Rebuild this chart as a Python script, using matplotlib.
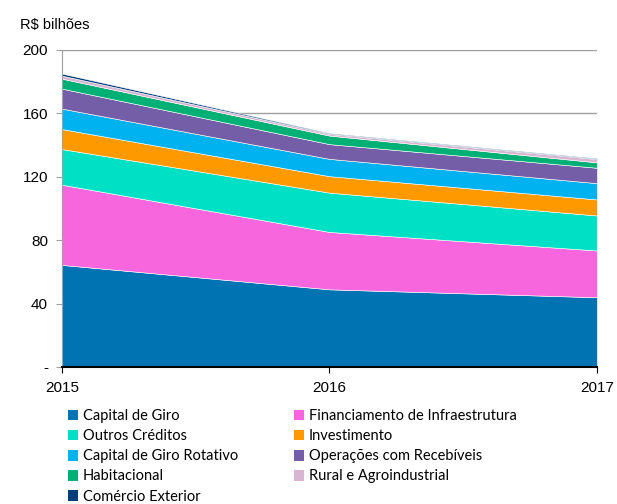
import matplotlib.pyplot as plt
from matplotlib.patches import Patch

# data (R$ bilhões)
years = [2015, 2016, 2017]
capital_giro = [64.4, 49.0, 44.0]
financiamento_infra = [50.6, 36.2, 29.5]
outros_creditos = [22.5, 24.8, 22.1]
investimento = [12.6, 10.4, 10.1]
capital_giro_rotativo = [12.9, 10.9, 10.3]
operacoes_recebiveis = [12.6, 9.3, 9.7]
habitacional = [6.3, 5.4, 3.4]
rural_agro = [1.9, 1.1, 2.1]
comercio_exterior = [1.3, 0.5, 0.5]

labels = ['Capital de Giro', 'Financiamento de Infraestrutura', 'Outros Créditos',
          'Investimento', 'Capital de Giro Rotativo', 'Operações com Recebíveis',
          'Habitacional', 'Rural e Agroindustrial', 'Comércio Exterior']
colors = ['#0073B2', '#F866DD', '#00E0C4', '#FF9900', '#00B2F0',
          '#755EA8', '#00B074', '#D8B5D0', '#003D78']
series = [capital_giro, financiamento_infra, outros_creditos, investimento,
          capital_giro_rotativo, operacoes_recebiveis, habitacional,
          rural_agro, comercio_exterior]

plt.rcParams['font.family'] = ['Liberation Sans', 'DejaVu Sans']

fig = plt.figure(figsize=(6.17, 5.04), dpi=100)
ax = fig.add_axes([0.1005, 0.2718, 0.867, 0.629])

ax.stackplot(years, *series, colors=colors, edgecolor='white', linewidth=0.4)

ax.set_xlim(2015, 2017)
ax.set_ylim(0, 200)
ax.set_xticks(years)
ax.set_xticklabels([str(y) for y in years], fontsize=11)
ax.set_yticks([0, 40, 80, 120, 160, 200])
ax.set_yticklabels(['-', '40', '80', '120', '160', '200'], fontsize=11)
ax.yaxis.grid(True, color='#A0A0A0', linewidth=1)
ax.set_axisbelow(True)

for s in ['top', 'right']:
    ax.spines[s].set_visible(False)
ax.spines['left'].set_color('#A0A0A0')
ax.spines['bottom'].set_color('black')
ax.spines['bottom'].set_linewidth(1.5)
ax.tick_params(axis='y', length=4, color='#A0A0A0', pad=6)
ax.tick_params(axis='x', length=4, color='black', pad=6)

fig.text(0.033, 0.943, 'R$ bilhões', fontsize=10.5)

handles = [Patch(facecolor=c, edgecolor='none') for c in colors]
# order legend row-wise in 2 columns
order = [0, 2, 4, 6, 8, 1, 3, 5, 7]
fig.legend([handles[i] for i in order], [labels[i] for i in order],
           ncol=2, loc='upper left', bbox_to_anchor=(0.1, 0.2),
           frameon=False, prop={'family': ['Lato', 'DejaVu Sans'], 'size': 10.5},
           handlelength=0.75, handleheight=0.75, handletextpad=0.3,
           columnspacing=3.8, labelspacing=0.42, borderaxespad=0)

plt.savefig('out.png', dpi=100)
